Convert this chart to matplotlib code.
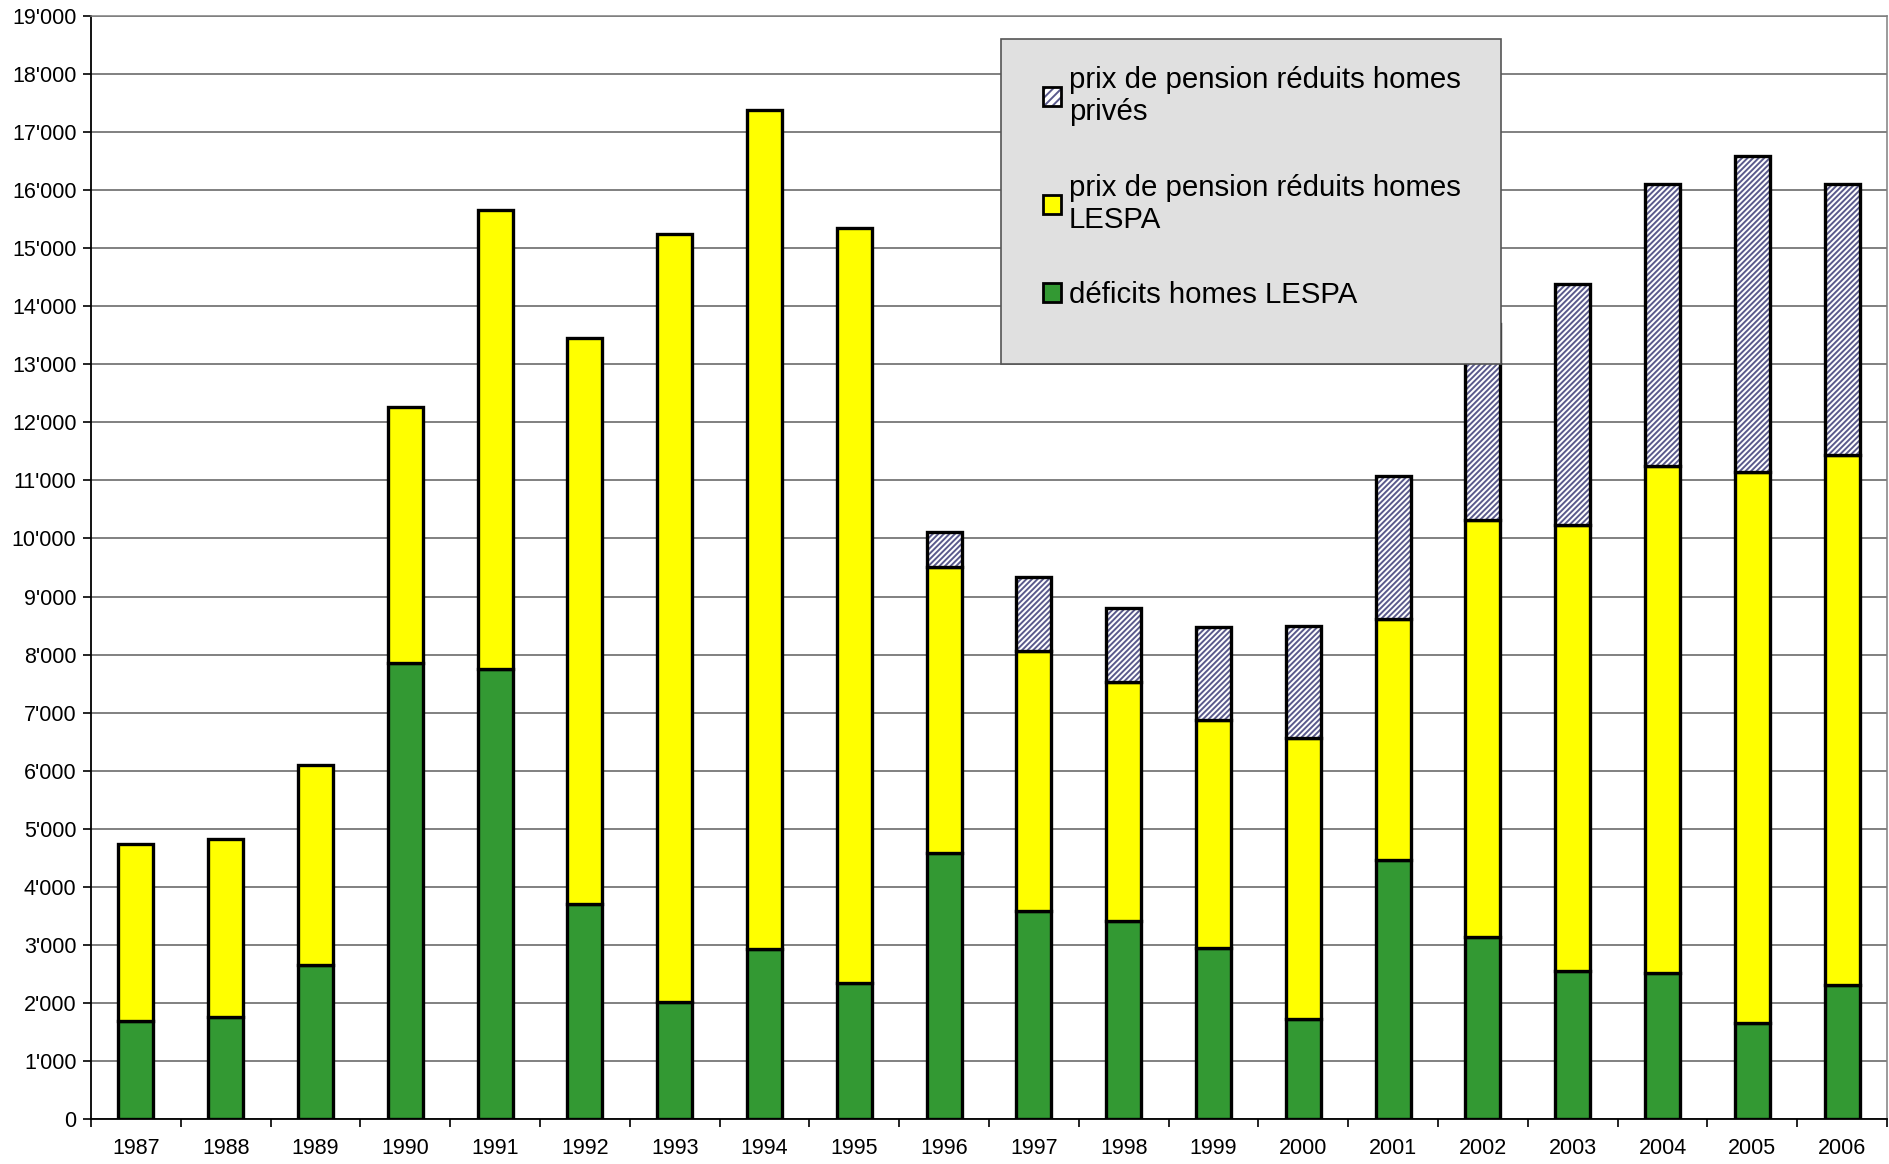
import matplotlib
matplotlib.use("Agg")
import matplotlib.pyplot as plt
import numpy as np
from matplotlib.patches import Patch, Rectangle
from matplotlib.legend_handler import HandlerTuple
from matplotlib.ticker import FuncFormatter, FixedLocator

years = [str(y) for y in range(1987, 2007)]
deficits_lespa = [1680, 1760, 2660, 7850, 7750, 3700, 2010, 2930, 2350, 4590,
                  3590, 3410, 2950, 1720, 4460, 3140, 2550, 2510, 1660, 2300]
# cumulative tops
top_lespa = [4740, 4820, 6100, 12270, 15660, 13460, 15240, 17380, 15340, 9510,
             8060, 7520, 6870, 6560, 8620, 10320, 10230, 11250, 11150, 11440]
top_prives = [0, 0, 0, 0, 0, 0, 0, 0, 0, 10110,
              9340, 8800, 8470, 8490, 11070, 13700, 14380, 16110, 16580, 16110]

prix_lespa = [t - d for t, d in zip(top_lespa, deficits_lespa)]
prix_prives = [max(p - t, 0) for p, t in zip(top_prives, top_lespa)]

lab_prives = "prix de pension réduits homes\nprivés"
lab_lespa = "prix de pension réduits homes\nLESPA"
lab_deficits = "déficits homes LESPA"

hatch_col = '#5a5a8c'

plt.rcParams['font.family'] = ['Liberation Sans', 'DejaVu Sans']
plt.rcParams['hatch.linewidth'] = 1.4

fig = plt.figure(figsize=(18.9, 11.64), dpi=100)
ax = fig.add_axes([91 / 1890, 1 - 1119 / 1164, (1887 - 91) / 1890, (1119 - 16) / 1164])

x = np.arange(len(years))
w = 0.39
ax.bar(x, deficits_lespa, w, color='#339933', edgecolor='black', linewidth=2.4, zorder=3)
ax.bar(x, prix_lespa, w, bottom=deficits_lespa, color='#ffff00', edgecolor='black',
       linewidth=2.4, zorder=3)
ax.bar(x, prix_prives, w, bottom=top_lespa, color='white', edgecolor=hatch_col,
       hatch='//////', linewidth=0, zorder=3)
mask = [p > 0 for p in prix_prives]
ax.bar(x[mask], np.array(prix_prives)[mask], w, bottom=np.array(top_lespa)[mask],
       color='none', edgecolor='black', linewidth=2.4, zorder=4)

ax.set_xlim(-0.5, len(years) - 0.5)
ax.set_ylim(0, 19000)
ax.set_yticks(np.arange(0, 19001, 1000))
ax.yaxis.set_major_formatter(FuncFormatter(lambda v, p: f"{v:,.0f}".replace(',', "'")))
ax.set_xticks(x)
ax.set_xticklabels(years)
ax.xaxis.set_minor_locator(FixedLocator(np.arange(-0.5, len(years), 1.0)))
ax.tick_params(axis='x', which='major', length=0, pad=13.5, labelsize=15.5)
ax.tick_params(axis='x', which='minor', length=6, width=1.2, direction='out', color='black')
ax.tick_params(axis='y', length=6, width=1.2, pad=4.5, labelsize=15.5)

ax.grid(axis='y', color='#5e5e5e', linewidth=1.1, zorder=0)
ax.set_axisbelow(True)
for s in ['left', 'bottom']:
    ax.spines[s].set_color('black')
    ax.spines[s].set_linewidth(1.3)
for s in ['top', 'right']:
    ax.spines[s].set_color('#808080')
    ax.spines[s].set_linewidth(1.1)

# legend box
box = Rectangle((1001 / 1890, 1 - 364 / 1164), 500 / 1890, 325 / 1164,
                transform=fig.transFigure, facecolor='#e0e0e0', edgecolor='#555555',
                linewidth=1.2, zorder=10)
fig.add_artist(box)

h_prives = (Patch(facecolor='white', edgecolor=hatch_col, hatch='////', linewidth=0),
            Patch(facecolor='none', edgecolor='black', linewidth=2))
h_lespa = Patch(facecolor='#ffff00', edgecolor='black', linewidth=2)
h_def = Patch(facecolor='#339933', edgecolor='black', linewidth=2)
leg = fig.legend([h_prives, h_lespa, h_def], [lab_prives, lab_lespa, lab_deficits],
                 handler_map={tuple: HandlerTuple(ndivide=1, pad=0)},
                 loc='upper left', bbox_to_anchor=(1043 / 1890, 1 - 66 / 1164),
                 frameon=False, fontsize=21.2, handlelength=0.62, handleheight=0.62,
                 handletextpad=0.25, labelspacing=1.6, borderpad=0, borderaxespad=0)
leg.set_zorder(11)

fig.savefig("out.png", dpi=100)
